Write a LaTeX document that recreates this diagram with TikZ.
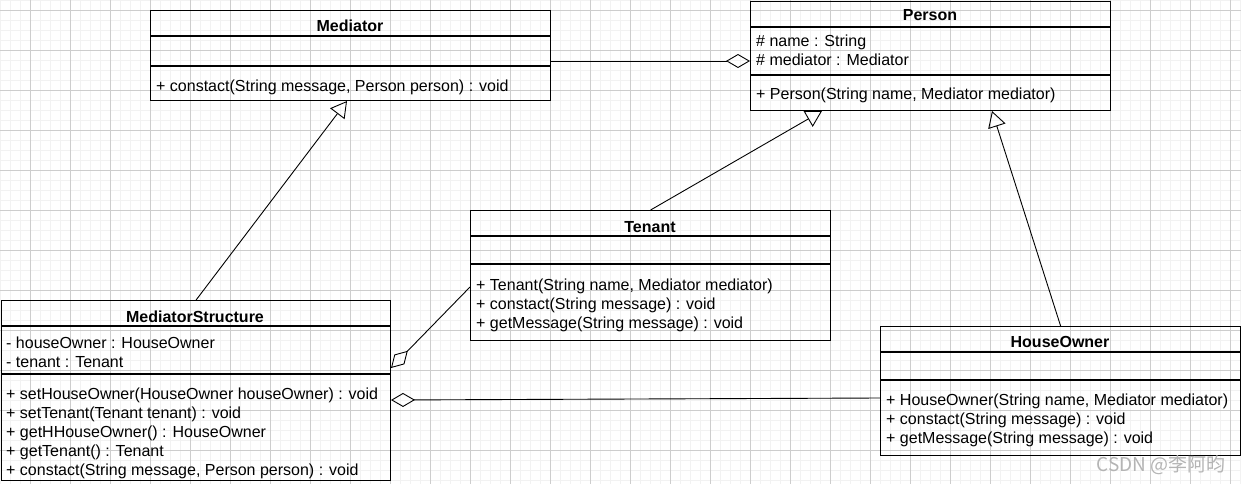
\documentclass[tikz,border=0pt]{standalone}
\usepackage{fontspec}
\setmainfont{Liberation Sans}
\newfontfamily\cjkfont{Noto Sans CJK SC}
\usetikzlibrary{arrows.meta}
\definecolor{gridminor}{HTML}{F2F2F2}
\definecolor{gridmajor}{HTML}{CDCDCD}
\definecolor{wmgray}{HTML}{B4B4B4}
\newcommand{\umlfont}{\fontsize{16}{19}\selectfont}
\tikzset{
  minorline/.style={draw=gridminor, line width=0.7pt},
  majorline/.style={draw=gridmajor, line width=0.8pt},
  classbox/.style={draw, line width=1.2pt, anchor=north west, inner sep=0pt},
  divider/.style={line width=1.1pt},
  classname/.style={font=\umlfont\bfseries, anchor=base, inner sep=0pt},
  member/.style={font=\umlfont, anchor=base west, inner sep=0pt},
  inherit/.style={line width=0.9pt, -{Triangle[open, length=16pt, width=18pt]}},
  aggr/.style={line width=0.9pt, -{Diamond[open, length=24pt, width=14pt]}},
  watermark/.style={font=\cjkfont\fontsize{19}{22}\selectfont, text=wmgray, inner sep=0pt}
}
\begin{document}
\begin{tikzpicture}[x=1pt, y=-1pt]
  \fill[white] (0,0) rectangle (1241,484);
  \useasboundingbox (0,0) rectangle (1241,484);
  % grid
  \foreach \x in {0,10,...,1240} \draw[minorline] (\x,0) -- (\x,484);
  \foreach \y in {0,10,...,480} \draw[minorline] (0,\y) -- (1241,\y);
  \foreach \x in {30,70,...,1230} \draw[majorline] (\x,0) -- (\x,484);
  \foreach \y in {10,50,...,450} \draw[majorline] (0,\y) -- (1241,\y);

  % Mediator
  \node[classbox, minimum width=400pt, minimum height=90pt] (med) at (150,10) {};
  \node[classname] (medT) at (350,32) {Mediator};
  \draw[divider] (150,36) -- (550,36);
  \draw[divider] (150,66) -- (550,66);
  \node[member] (medM1) at (156,92) {+ constact(String message, Person person) : void};

  % Person
  \node[classbox, minimum width=360pt, minimum height=109pt] (per) at (750,1) {};
  \node[classname] (perT) at (930,21) {Person};
  \draw[divider] (750,27) -- (1110,27);
  \draw[divider] (750,75) -- (1110,75);
  \node[member] (perA1) at (756,47) {\# name : String};
  \node[member] (perA2) at (756,66) {\# mediator : Mediator};
  \node[member] (perM1) at (756,100) {+ Person(String name, Mediator mediator)};

  % Tenant
  \node[classbox, minimum width=360pt, minimum height=130pt] (ten) at (470,210) {};
  \node[classname] (tenT) at (650,232) {Tenant};
  \draw[divider] (470,236) -- (830,236);
  \draw[divider] (470,264) -- (830,264);
  \node[member] (tenM1) at (476,290) {+ Tenant(String name, Mediator mediator)};
  \node[member] (tenM2) at (476,309) {+ constact(String message) : void};
  \node[member] (tenM3) at (476,328) {+ getMessage(String message) : void};

  % MediatorStructure
  \node[classbox, minimum width=389pt, minimum height=180pt] (ms) at (1,300) {};
  \node[classname] (msT) at (195,322) {MediatorStructure};
  \draw[divider] (1,326) -- (390,326);
  \draw[divider] (1,374) -- (390,374);
  \node[member] (msA1) at (6,348) {- houseOwner : HouseOwner};
  \node[member] (msA2) at (6,367) {- tenant : Tenant};
  \node[member] (msM1) at (6,399) {+ setHouseOwner(HouseOwner houseOwner) : void};
  \node[member] (msM2) at (6,418) {+ setTenant(Tenant tenant) : void};
  \node[member] (msM3) at (6,437) {+ getHHouseOwner() : HouseOwner};
  \node[member] (msM4) at (6,456) {+ getTenant() : Tenant};
  \node[member] (msM5) at (6,475) {+ constact(String message, Person person) : void};

  % HouseOwner
  \node[classbox, minimum width=360pt, minimum height=129pt] (ho) at (880,326) {};
  \node[classname] (hoT) at (1060,347) {HouseOwner};
  \draw[divider] (880,352) -- (1240,352);
  \draw[divider] (880,380) -- (1240,380);
  \node[member] (hoM1) at (886,405) {+ HouseOwner(String name, Mediator mediator)};
  \node[member] (hoM2) at (886,424) {+ constact(String message) : void};
  \node[member] (hoM3) at (886,443) {+ getMessage(String message) : void};

  % connector ends
  \coordinate (medR) at (550,61);
  \coordinate (perL) at (750,61);
  \coordinate (medB) at (347,101);
  \coordinate (perB1) at (822,111);
  \coordinate (perB2) at (992,111);
  \coordinate (tenL) at (470,287);
  \coordinate (msR1) at (391,368);
  \coordinate (hoL) at (880,398);
  \coordinate (msR2) at (391,400);

  \draw[aggr] (medR) -- (perL);
  \draw[inherit] (ms.north) -- (medB);
  \draw[inherit] (ten.north) -- (perB1);
  \draw[inherit] (ho.north) -- (perB2);
  \draw[aggr] (tenL) -- (msR1);
  \draw[aggr] (hoL) -- (msR2);

  \node[watermark] (wm) at (1161,465) {CSDN @李阿昀};
\end{tikzpicture}
\end{document}
